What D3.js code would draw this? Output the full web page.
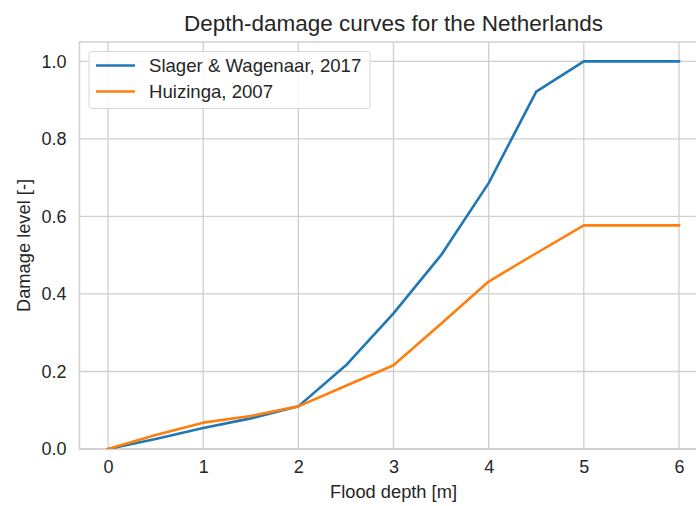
<!DOCTYPE html>
<html>
<head>
<meta charset="utf-8">
<script src="https://cdn.jsdelivr.net/npm/d3@7"></script>
<style>
  html, body { margin: 0; padding: 0; background: #fff; }
  svg text { font-family: Arial, "Liberation Sans", sans-serif; fill: #262626; }
</style>
</head>
<body>
<div id="chart"></div>
<script>
// Flood depth (m) at which each curve is sampled
const depths = [0, 0.5, 1, 1.5, 2, 2.5, 3, 3.5, 4, 4.5, 5, 6];
// Damage fraction per depth
const slagerWagenaar = [0, 0.026, 0.054, 0.079, 0.11, 0.216, 0.35, 0.50, 0.686, 0.922, 1.0, 1.0];
const huizinga = [0, 0.036, 0.068, 0.085, 0.11, 0.163, 0.216, 0.323, 0.432, 0.505, 0.577, 0.577];

const seriesNames = ["Slager & Wagenaar, 2017", "Huizinga, 2007"];
const seriesColors = ["#1f77b4", "#ff7f0e"];
const xTicks = [0, 1, 2, 3, 4, 5, 6];
const yTicks = [0.0, 0.2, 0.4, 0.6, 0.8, 1.0];

const W = 696, H = 506;
const margin = { left: 79.5, right: -11.5, top: 42, bottom: 57 };

const svg = d3.select("#chart").append("svg")
  .attr("width", W).attr("height", H);

const x = d3.scaleLinear().domain([-0.3, 6.3]).range([margin.left, W - margin.right]);
const y = d3.scaleLinear().domain([0, 1.05]).range([H - margin.bottom, margin.top]);

const grid = "#cfcfcf";

// Clip to visible plot region
svg.append("defs").append("clipPath").attr("id", "plot")
  .append("rect")
  .attr("x", margin.left).attr("y", margin.top)
  .attr("width", W - margin.right - margin.left)
  .attr("height", H - margin.bottom - margin.top);

// Grid lines
const g = svg.append("g");
g.selectAll(".vg").data(xTicks).join("line")
  .attr("x1", d => x(d)).attr("x2", d => x(d))
  .attr("y1", y(0)).attr("y2", y(1.05))
  .attr("stroke", grid).attr("stroke-width", 1.3);
g.selectAll(".hg").data(yTicks).join("line")
  .attr("x1", x(-0.3)).attr("x2", x(6.3))
  .attr("y1", d => y(d)).attr("y2", d => y(d))
  .attr("stroke", grid).attr("stroke-width", 1.3);

// Spines
svg.append("rect")
  .attr("x", margin.left).attr("y", margin.top)
  .attr("width", x(6.3) - margin.left)
  .attr("height", y(0) - margin.top)
  .attr("fill", "none").attr("stroke", grid).attr("stroke-width", 1.5);

// Axes (labels only, seaborn whitegrid has no tick marks)
const xAxis = svg.append("g")
  .attr("transform", `translate(0,${y(0)})`)
  .call(d3.axisBottom(x).tickValues(xTicks).tickSize(0).tickPadding(11).tickFormat(d3.format("d")));
const yAxis = svg.append("g")
  .attr("transform", `translate(${margin.left},0)`)
  .call(d3.axisLeft(y).tickValues(yTicks).tickSize(0).tickPadding(13).tickFormat(d3.format(".1f")));
[xAxis, yAxis].forEach(a => {
  a.select(".domain").remove();
  a.selectAll("text").style("font-size", "18px").attr("fill", "#262626");
});

// Curves
const line = d3.line().x((d, i) => x(depths[i])).y(d => y(d));
const lines = svg.append("g").attr("clip-path", "url(#plot)");
[slagerWagenaar, huizinga].forEach((vals, i) => {
  lines.append("path")
    .datum(vals)
    .attr("d", line)
    .attr("fill", "none")
    .attr("stroke", seriesColors[i])
    .attr("stroke-width", 2.6)
    .attr("stroke-linejoin", "round")
    .attr("stroke-linecap", "square");
});

// Title and axis labels
svg.append("text")
  .attr("x", (x(-0.3) + x(6.3)) / 2).attr("y", 30.5)
  .attr("text-anchor", "middle")
  .style("font-size", "22.5px")
  .text("Depth-damage curves for the Netherlands");
svg.append("text")
  .attr("x", (x(-0.3) + x(6.3)) / 2).attr("y", 497.5)
  .attr("text-anchor", "middle")
  .style("font-size", "18.3px")
  .text("Flood depth [m]");
svg.append("text")
  .attr("transform", `translate(29.5,${(y(0) + y(1.05)) / 2}) rotate(-90)`)
  .attr("text-anchor", "middle")
  .style("font-size", "18.3px")
  .text("Damage level [-]");

// Legend
const leg = svg.append("g");
leg.append("rect")
  .attr("x", 89).attr("y", 51.5).attr("width", 281).attr("height", 57)
  .attr("rx", 3)
  .attr("fill", "#fff").attr("fill-opacity", 0.85)
  .attr("stroke", "#d6d6d6").attr("stroke-width", 1);
seriesNames.forEach((name, i) => {
  const cy = 65.5 + i * 26;
  leg.append("line")
    .attr("x1", 96).attr("x2", 135)
    .attr("y1", cy).attr("y2", cy)
    .attr("stroke", seriesColors[i]).attr("stroke-width", 2.6);
  leg.append("text")
    .attr("x", 149).attr("y", cy + 6.5)
    .style("font-size", "18.6px")
    .text(name);
});
</script>
</body>
</html>
